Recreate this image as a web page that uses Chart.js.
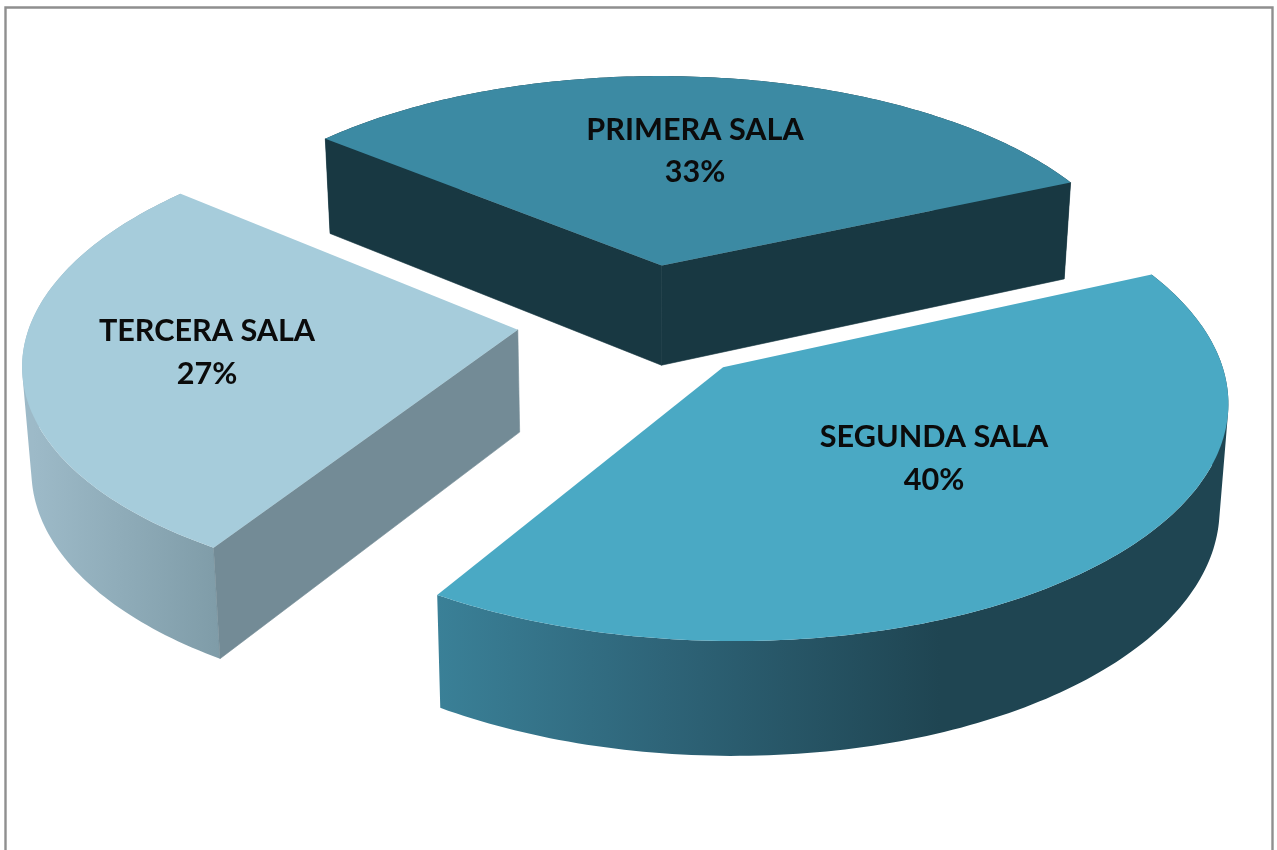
<!DOCTYPE html>
<html><head><meta charset="utf-8">
<script src="https://cdn.jsdelivr.net/npm/chart.js@4"></script>
<style>html,body{margin:0;padding:0;background:#fff}#w{width:1277px;height:850px}</style>
</head><body><div id="w"><canvas id="c" width="1277" height="850"></canvas></div>
<script>
const categories = ['PRIMERA SALA','SEGUNDA SALA','TERCERA SALA'];
const values = [33,40,27];
const topColors = ['#3c8aa3','#4aa9c4','#a6ccdb'];
const wallColors = ['#183842','#1f4552','#738b96'];
const arcStops = [
  [[0,'#183842'],[1,'#183842']],
  [[0,'#3a8097'],[0.45,'#2e6478'],[1,'#1f4552']],
  [[0,'#9dbac8'],[1,'#7f9ca8']]
];
const labelPos = [[695,130,172],[934,437,480],[207,331,374]];
const CX=642, CY=321, R=487, EXPLODE=125, K=0.465, Q=0.00026, DEPTH=102;
const DEG=Math.PI/180;

function project(X,Y){const w=1-Q*Y;return [CX+X/w, CY+Y*K/w];}
// small angular correction of the view, same kind of distortion as the perspective above
function warp(t){return t+(-1.57-1.70*Math.cos(t)-0.42*Math.sin(t))*DEG;}
function lower(p){const dx=p[0]-CX,dy=p[1]-CY;return [CX+dx*0.985, p[1]+DEPTH+0.04*dy];}
function addPoly(ctx,pts){pts.forEach((p,i)=>i?ctx.lineTo(p[0],p[1]):ctx.moveTo(p[0],p[1]));ctx.closePath();}
function area(q){let s=0;q.forEach((p,i)=>{const r=q[(i+1)%q.length];s+=p[0]*r[1]-r[0]*p[1];});return s;}
function solid(ctx,pts,fill){ctx.fillStyle=fill;ctx.strokeStyle=fill;ctx.lineWidth=0.6;ctx.beginPath();addPoly(ctx,pts);ctx.fill();ctx.stroke();}

const pie3d = {
  id:'pie3d',
  beforeDatasetsDraw(chart){
    const ctx=chart.ctx, arcs=chart.getDatasetMeta(0).data;
    ctx.save();
    ctx.fillStyle='#fff';ctx.fillRect(0,0,1277,850);
    ctx.strokeStyle='#8f8f8f';ctx.lineWidth=2.4;
    ctx.beginPath();ctx.moveTo(5.5,850);ctx.lineTo(5.5,7.5);ctx.lineTo(1272.5,7.5);ctx.lineTo(1272.5,850);ctx.stroke();
    [0,2,1].forEach(i=>{
      const a=arcs[i], mid=(a.startAngle+a.endAngle)/2;
      const ox=EXPLODE*Math.cos(mid), oy=EXPLODE*Math.sin(mid);
      const apex=project(ox,oy), rim=[];
      const n=Math.ceil((a.endAngle-a.startAngle)*60);
      for(let s=0;s<=n;s++){
        const t=warp(a.startAngle+(a.endAngle-a.startAngle)*s/n);
        rim.push(project(ox+R*Math.cos(t),oy+R*Math.sin(t)));
      }
      const rimLow=rim.map(lower), apexLow=lower(apex);
      // arc wall: union of same-orientation quads, filled as one path
      const gx0=i===1?438:33, gx1=i===1?940:219;
      const g=ctx.createLinearGradient(gx0,0,gx1,0);
      arcStops[i].forEach(s=>g.addColorStop(s[0],s[1]));
      ctx.beginPath();
      for(let s=0;s<n;s++){
        const q=[rim[s],rim[s+1],rimLow[s+1],rimLow[s]];
        if(area(q)<0) q.reverse();
        addPoly(ctx,q);
      }
      ctx.fillStyle=g;ctx.fill('nonzero');
      // radial walls
      if(i===0||i===2) solid(ctx,[apex,rim[0],rimLow[0],apexLow],wallColors[i]);
      if(i===0) solid(ctx,[apex,rim[n],rimLow[n],apexLow],wallColors[i]);
      // top face
      ctx.fillStyle=topColors[i];
      ctx.beginPath();addPoly(ctx,[apex].concat(rim));ctx.fill();
    });
    ctx.fillStyle='#0b0b0b';
    ctx.font='bold 30.6px Lato';ctx.textAlign='center';ctx.textBaseline='middle';
    categories.forEach((c,i)=>{
      ctx.fillText(c,labelPos[i][0],labelPos[i][1]);
      ctx.fillText(values[i]+'%',labelPos[i][0],labelPos[i][2]);
    });
    ctx.restore();
    return false;
  }
};

new Chart(document.getElementById('c'),{
  type:'pie',
  data:{labels:categories,datasets:[{data:values,backgroundColor:topColors,borderWidth:0}]},
  options:{responsive:false,animation:false,rotation:310,
    plugins:{legend:{display:false},tooltip:{enabled:false}}},
  plugins:[pie3d]
});
</script></body></html>
